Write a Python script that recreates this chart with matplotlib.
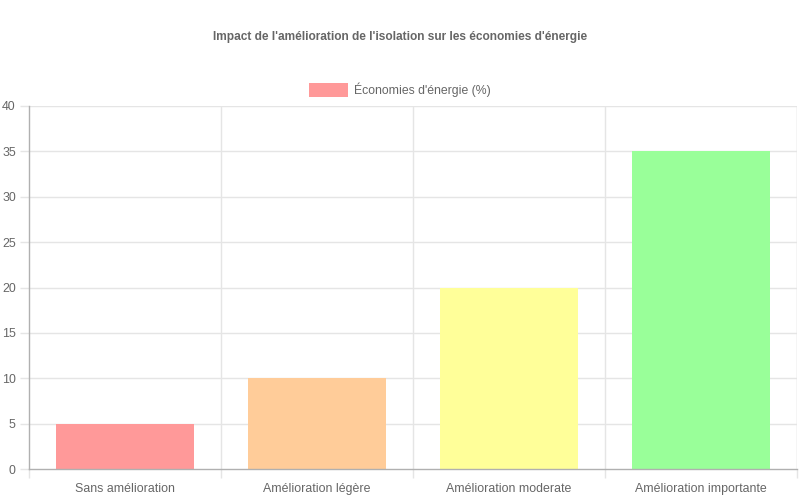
import numpy as np
import matplotlib.pyplot as plt
from matplotlib.patches import Patch

plt.rcParams['font.family'] = ['Liberation Sans', 'DejaVu Sans']

# Data
categories = ["Sans amélioration", "Amélioration légère", "Amélioration moderate", "Amélioration importante"]
savings = [5, 10, 20, 35]
colors = ["#ff9999", "#ffcc99", "#ffff99", "#99ff99"]
series_label = "Économies d'énergie (%)"
title = "Impact de l'amélioration de l'isolation sur les économies d'énergie"

grid_color = "#e5e5e5"
axis_color = "#b0b0b0"
text_color = "#666666"

fig = plt.figure(figsize=(8, 5), dpi=100)
ax = fig.add_axes([29 / 800, 31 / 500, 768 / 800, 363 / 500])

x = np.arange(len(categories))
ax.bar(x, savings, width=0.72, color=colors, zorder=3)

ax.set_xlim(-0.5, len(categories) - 0.5)
ax.set_ylim(0, 40)
ax.set_yticks(np.arange(0, 41, 5))
ax.set_xticks(x)
ax.set_xticklabels(categories)
ax.set_xticks(np.arange(-0.5, len(categories), 1), minor=True)

# grid lines
for y in np.arange(5, 41, 5):
    ax.axhline(y, color=grid_color, lw=1, zorder=1)
for b in np.arange(0.5, len(categories), 1):
    ax.axvline(b, color=grid_color, lw=1, zorder=1)
ax.axvline(len(categories) - 0.5, color=grid_color, lw=1, zorder=1)

for side in ["top", "right"]:
    ax.spines[side].set_visible(False)
for side in ["left", "bottom"]:
    ax.spines[side].set_color(axis_color)
    ax.spines[side].set_linewidth(1)
    ax.spines[side].set_zorder(4)

ax.tick_params(axis="x", which="major", length=0, pad=10, labelsize=8.9, labelcolor=text_color)
ax.tick_params(axis="x", which="minor", length=6.5, width=1, color=grid_color)
ax.tick_params(axis="y", length=6.5, width=1, color=grid_color, pad=3, labelsize=8.9, labelcolor=text_color)

fig.text(0.5, 1 - 37 / 500, title, ha="center", va="center", fontsize=8.6,
         fontweight="bold", color=text_color)

handle = Patch(facecolor=colors[0], edgecolor="none")
fig.legend([handle], [series_label], loc="center", bbox_to_anchor=(0.5, 1 - 90 / 500),
           frameon=False, fontsize=8.8, labelcolor=text_color, handlelength=3.2,
           handleheight=1.3, handletextpad=0.5)

fig.savefig("out.png", dpi=100)
